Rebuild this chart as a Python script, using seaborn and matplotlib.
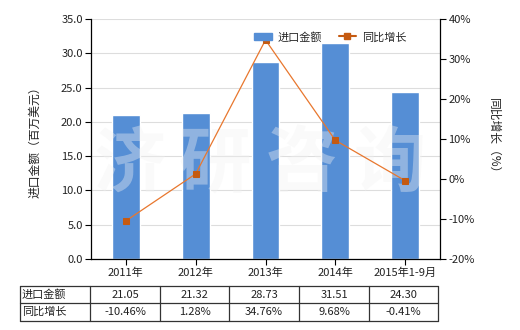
import numpy as np
import pandas as pd
import matplotlib
matplotlib.use("Agg")
import matplotlib.pyplot as plt
from matplotlib.lines import Line2D
from matplotlib.patches import Rectangle
import seaborn as sns

categories = ["2011年", "2012年", "2013年", "2014年", "2015年1-9月"]
import_values = [21.05, 21.32, 28.73, 31.51, 24.30]
growth_pct = [-10.46, 1.28, 34.76, 9.68, -0.41]
value_labels = ["21.05", "21.32", "28.73", "31.51", "24.30"]
growth_labels = ["-10.46%", "1.28%", "34.76%", "9.68%", "-0.41%"]
series_names = ["进口金额", "同比增长"]
left_ticks = [0, 5, 10, 15, 20, 25, 30, 35]
right_ticks = [-20, -10, 0, 10, 20, 30, 40]

sns.set_theme(style="white")
plt.rcParams["font.family"] = ["Noto Sans CJK SC", "DejaVu Sans"]

W, H = 520, 330
fig = plt.figure(figsize=(W / 100, H / 100), dpi=100)

def fx(px):
    return px / W

def fy(py):
    return 1 - py / H

L, R, T, B = 91, 440, 19, 259
ax = fig.add_axes([fx(L), fy(B), fx(R - L), (B - T) / H])

bar_color = "#558ED5"
line_color = "#E8772E"
marker_color = "#C55A11"
fs = 8

df = pd.DataFrame({"cat": categories, "val": import_values})
sns.barplot(data=df, x="cat", y="val", ax=ax, color=bar_color, width=0.4,
            saturation=1, zorder=2)
ax.set_xlim(-0.5, 4.5)
ax.set_ylim(0, 35)
ax.set_yticks(left_ticks)
ax.set_yticklabels([f"{v:.1f}" for v in left_ticks], fontsize=fs, color="#222222")
ax.set_xticks(range(len(categories)))
ax.set_xticklabels(categories, fontsize=fs, color="#222222")
ax.set_xlabel("")
ax.set_ylabel("进口金额（百万美元）", fontsize=fs + 0.5, color="#222222", labelpad=14)
ax.yaxis.grid(True, color="#DDDDDD", linewidth=0.8, zorder=0)
ax.set_axisbelow(True)
for s in ["top", "right"]:
    ax.spines[s].set_visible(False)
for s in ["left", "bottom"]:
    ax.spines[s].set_color("black")
    ax.spines[s].set_linewidth(0.9)
ax.tick_params(axis="both", direction="out", length=4, width=0.8, color="black",
               left=True, bottom=True, pad=2)

# watermark
for ch, xc in zip("济研咨询", [130, 215, 302, 390]):
    ax.text(fx(xc), fy(165), ch, transform=fig.transFigure, fontsize=52,
            fontweight="bold", color="#F2F2F2", alpha=0.38, ha="center",
            va="center", zorder=3)

ax2 = ax.twinx()
sns.lineplot(x=np.arange(len(categories)), y=growth_pct, ax=ax2, color=line_color,
             linewidth=0.9, marker="s", markersize=5, markerfacecolor=marker_color,
             markeredgecolor=marker_color, zorder=5)
ax2.set_ylim(-20, 40)
ax2.set_yticks(right_ticks)
ax2.set_yticklabels([f"{v}%" for v in right_ticks], fontsize=fs, color="#222222")
ax2.set_ylabel("同比增长（%）", fontsize=fs + 0.5, color="#222222", rotation=-90,
               labelpad=18)
for s in ["top", "left", "bottom"]:
    ax2.spines[s].set_visible(False)
ax2.spines["right"].set_color("black")
ax2.spines["right"].set_linewidth(0.9)
ax2.tick_params(axis="y", direction="out", length=4, width=0.8, color="black",
                right=True, pad=2)
ax2.grid(False)

# legend
handles = [Rectangle((0, 0), 1, 1, color=bar_color),
           Line2D([0], [0], color=marker_color, linewidth=1.5, marker="s",
                  markersize=4, markerfacecolor=marker_color)]
fig.legend(handles, series_names, loc="center left",
           bbox_to_anchor=(fx(254), fy(37)), ncol=2, frameon=False,
           fontsize=fs, handlelength=1.6, handletextpad=0.5, columnspacing=1.5,
           borderaxespad=0, borderpad=0)

# data table
cols = [20, 90, 160, 229, 299, 369, 438]
rows = [286, 303, 321]
lc = "#333333"
for yy in rows:
    fig.add_artist(Line2D([fx(cols[0]), fx(cols[-1])], [fy(yy), fy(yy)],
                          color=lc, linewidth=0.9, transform=fig.transFigure))
for xx in cols:
    fig.add_artist(Line2D([fx(xx), fx(xx)], [fy(rows[0]), fy(rows[-1])],
                          color=lc, linewidth=0.9, transform=fig.transFigure))
row_texts = [value_labels, growth_labels]
for r, (name, texts) in enumerate(zip(series_names, row_texts)):
    yc = (rows[r] + rows[r + 1]) / 2
    fig.text(fx(cols[0] + 2), fy(yc), name, fontsize=fs, ha="left", va="center",
             color="#222222")
    for i, t in enumerate(texts):
        xc = (cols[i + 1] + cols[i + 2]) / 2
        fig.text(fx(xc), fy(yc), t, fontsize=fs, ha="center", va="center",
                 color="#222222")

fig.savefig("out.png", dpi=100, facecolor="white")
